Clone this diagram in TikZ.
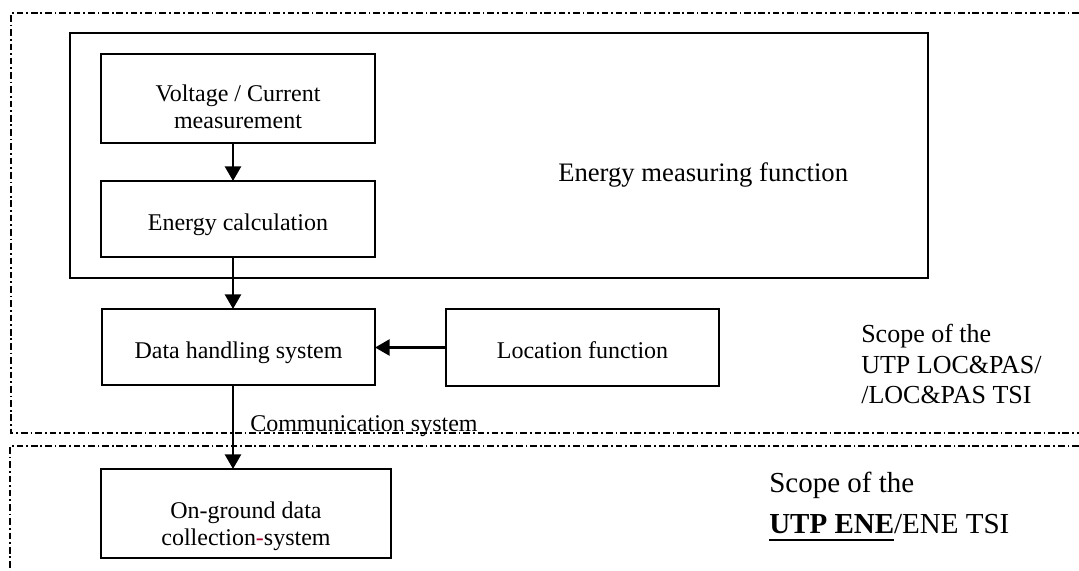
\documentclass[tikz,border=0pt]{standalone}
\usepackage{fontspec}
\setmainfont{Liberation Serif}
\usetikzlibrary{arrows.meta,fit}
\definecolor{hyred}{RGB}{176,0,48}
\tikzset{
  box/.style={draw, line width=1.7pt, inner sep=0pt, outer sep=0pt},
  arr/.style={line width=2pt, -{Triangle[width=12pt,length=11pt]}},
  dd/.style={line width=1.3pt, dash pattern=on 5pt off 2.2pt on 1.3pt off 2.2pt},
  txt/.style={font=\fontsize{18pt}{20.5pt}\selectfont, anchor=base, inner sep=0pt},
  bigtxt/.style={font=\fontsize{20pt}{24pt}\selectfont, anchor=base west, inner sep=0pt},
  scopetxt/.style={font=\fontsize{19.5pt}{23pt}\selectfont, anchor=base west, inner sep=0pt},
  scopetxtb/.style={font=\fontsize{21.75pt}{26pt}\selectfont, anchor=base west, inner sep=0pt},
}
\begin{document}
\begin{tikzpicture}[x=0.75pt,y=-0.75pt]
\useasboundingbox (0,0) rectangle (1079,571);
% scope regions
\draw[dd] (1079,13) -- (11,13) -- (11,433) -- (1079,433);
\draw[dd] (1079,446) -- (10,446) -- (10,571);
% boxes
\node[box, fit={(70,33) (928,278)}] (emf) {};
\node[box, fit={(101,54) (375,143)}] (vc) {};
\node[box, fit={(101,181) (375,257)}] (ec) {};
\node[box, fit={(102,309) (375,385)}] (dh) {};
\node[box, fit={(446,309) (719,386)}] (loc) {};
\node[box, fit={(101,469) (391,558)}] (og) {};
% texts
\node[txt] (vct1) at (238,101) {Voltage / Current};
\node[txt] (vct2) at (238,128.5) {measurement};
\node[txt] (ect) at (238,230) {Energy calculation};
\node[txt] (dht) at (238.5,358) {Data handling system};
\node[txt] (loct) at (582.5,358) {Location function};
\node[txt] (ogt1) at (246,518) {On-ground data};
\node[txt] (ogt2) at (246,545) {collection{\color{hyred}-}system};
\node[bigtxt] (emft) at (558,181) {Energy measuring function};
\node[txt, anchor=base west] (comm) at (250,431) {Communication system};
\node[scopetxt] (s1) at (861,342) {Scope of the};
\node[scopetxt] (s2) at (861,373) {UTP LOC\&PAS/};
\node[scopetxt] (s3) at (861,403) {/LOC\&PAS TSI};
\node[scopetxtb] (s4) at (769,492) {Scope of the};
\node[scopetxtb] (s5) at (769,533) {\textbf{\setbox0\hbox{UTP ENE}\rlap{\rule[-6pt]{\wd0}{1.5pt}}\box0}/ENE TSI};
% connectors
\coordinate (ax) at (233,0);
\draw[arr] (vc.south -| ax) -- (ec.north -| ax);
\draw[arr] (ec.south -| ax) -- (dh.north -| ax);
\draw[arr] (loc.west) -- (loc.west -| dh.east);
\draw[arr] (dh.south -| ax) -- (og.north -| ax);
\end{tikzpicture}
\end{document}
